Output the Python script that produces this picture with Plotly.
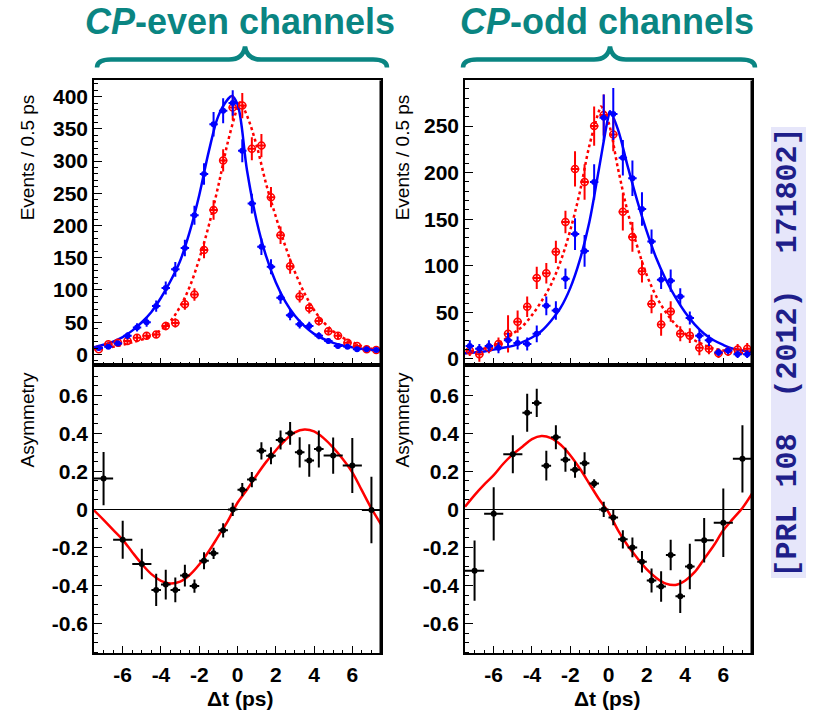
import plotly.graph_objects as go

# ---------------- data ----------------
# Delta-t bin centres (0.5 ps bins) for the event distributions
dt_bins = [-7.25, -6.75, -6.25, -5.75, -5.25, -4.75, -4.25, -3.75, -3.25, -2.75,
           -2.25, -1.75, -1.25, -0.75, -0.25, 0.25, 0.75, 1.25, 1.75, 2.25,
           2.75, 3.25, 3.75, 4.25, 4.75, 5.25, 5.75, 6.25, 6.75, 7.25]

# CP-even channels: q = +1 (blue) and q = -1 (red) event counts
even_b0 = [10, 12, 17, 29, 42, 50, 75, 103, 132, 165, 216, 280, 357, 378, 390,
           316, 234, 167, 136, 88, 61, 47, 44, 29, 21, 13, 12, 8, 8, 7]
even_b0_err = [3, 3.5, 4, 5.4, 6.5, 7, 8.7, 10, 11.5, 12.8, 14.7, 16.7, 18.9, 19.4, 19.7,
               17.8, 15.3, 12.9, 11.7, 9.4, 7.8, 6.9, 6.6, 5.4, 4.6, 3.6, 3.5, 2.8, 2.8, 2.6]
even_b0bar = [8, 16, 18, 21, 26, 29, 31, 44, 49, 78, 93, 162, 224, 301, 383,
              386, 319, 324, 244, 185, 137, 90, 72, 52, 36, 29, 18, 13, 8, 7]
even_b0bar_err = [2.8, 4, 4.2, 4.6, 5.1, 5.4, 5.6, 6.6, 7, 8.8, 9.6, 12.7, 15, 17.3, 19.6,
                  19.6, 17.9, 18, 15.6, 13.6, 11.7, 9.5, 8.5, 7.2, 6, 5.4, 4.2, 3.6, 2.8, 2.6]

# CP-odd channels
odd_b0 = [14, 11, 14, 12, 20, 17, 16, 27, 57, 52, 86, 134, 116, 190, 259,
          263, 216, 194, 161, 126, 85, 84, 67, 44, 25, 20, 7, 9, 5, 5]
odd_b0_err = [6, 5, 6, 6, 8, 7, 7, 9, 10, 10, 11, 17, 17, 19, 25,
              28, 19, 19, 18, 13, 10, 12, 9, 7, 6, 6, 4, 4, 4, 4]
odd_b0bar = [9, 5, 12, 16, 27, 40, 56, 87, 92, 115, 147, 204, 190, 250, 262,
             241, 158, 131, 94, 59, 37, 51, 27, 25, 12, 11, 6, 8, 10, 11]
odd_b0bar_err = [6, 8, 6, 7, 20, 12, 11, 12, 11, 12, 12, 19, 19, 21, 22,
                 18, 20, 16, 12, 10, 12, 11, 8, 8, 8, 6, 5, 5, 6, 6]

# Fit projections for the event distributions
even_b0_fit_x = [-7.5, -7, -6.5, -6, -5.5, -5, -4.5, -4, -3.5, -3, -2.5, -2, -1.5, -1,
                 -0.5, -0.3, 0, 0.5, 1, 1.5, 2, 2.5, 3, 3.5, 4, 4.5, 5, 5.5, 6, 6.5, 7, 7.5]
even_b0_fit = [11, 15, 20, 27, 37, 50, 66, 88, 114, 145, 190, 247, 315, 370,
               396, 401, 388, 285, 207, 152, 112, 82, 60, 44, 32, 24, 18, 14, 11, 9, 7, 6]
even_b0bar_fit_x = [-7.5, -7, -6.5, -6, -5.5, -5, -4.5, -4, -3.5, -3, -2.5, -2, -1.5, -1,
                    -0.5, 0, 0.13, 0.5, 1, 1.5, 2, 2.5, 3, 3.5, 4, 4.5, 5, 5.5, 6, 6.5, 7, 7.5]
even_b0bar_fit = [8, 10, 12, 15, 19, 23, 29, 38, 52, 74, 105, 148, 200, 262,
                  330, 383, 391, 370, 324, 264, 214, 168, 128, 95, 69, 50, 36, 26, 19, 13, 9, 6]

odd_b0_fit_x = [-7.5, -7, -6.5, -6, -5.5, -5, -4.5, -4, -3.5, -3, -2.5, -2, -1.5, -1,
                -0.5, 0, 0.08, 0.5, 1, 1.5, 2, 2.5, 3, 3.5, 4, 4.5, 5, 5.5, 6, 6.5, 7, 7.5]
odd_b0_fit = [6, 7, 8, 10, 12, 14, 18, 23, 30, 41, 55, 76, 106, 147,
              204, 261, 266, 246, 207, 170, 137, 108, 85, 66, 50, 37, 27, 20, 15, 11, 9, 7]
odd_b0bar_fit_x = [-7.5, -7, -6.5, -6, -5.5, -5, -4.5, -4, -3.5, -3, -2.5, -2, -1.5, -1,
                   -0.5, -0.4, 0, 0.5, 1, 1.5, 2, 2.5, 3, 3.5, 4, 4.5, 5, 5.5, 6, 6.5, 7, 7.5]
odd_b0bar_fit = [6, 8, 11, 14, 20, 27, 35, 47, 62, 80, 105, 138, 179, 229,
                 266, 271, 254, 204, 158, 121, 90, 67, 50, 37, 27, 20, 15, 11, 9, 7, 6, 6]

# Asymmetry points (variable bin widths)
asym_x = [-7, -6, -5, -4.25, -3.75, -3.25, -2.75, -2.25, -1.75, -1.25, -0.75, -0.25,
          0.25, 0.75, 1.25, 1.75, 2.25, 2.75, 3.25, 3.75, 4.25, 5, 6, 7]
asym_xerr = [0.5, 0.5, 0.5, 0.25, 0.25, 0.25, 0.25, 0.25, 0.25, 0.25, 0.25, 0.25,
             0.25, 0.25, 0.25, 0.25, 0.25, 0.25, 0.25, 0.25, 0.25, 0.5, 0.5, 0.5]
even_asym = [0.162, -0.16, -0.287, -0.423, -0.395, -0.423, -0.348, -0.403, -0.27, -0.231,
             -0.11, 0.0, 0.104, 0.157, 0.308, 0.282, 0.365, 0.40, 0.30, 0.257, 0.318,
             0.283, 0.231, -0.003]
even_asym_err = [0.14, 0.10, 0.08, 0.085, 0.078, 0.065, 0.057, 0.035, 0.045, 0.03, 0.037,
                 0.035, 0.035, 0.04, 0.045, 0.045, 0.05, 0.06, 0.08, 0.085, 0.097, 0.095,
                 0.145, 0.175]
odd_asym = [-0.322, -0.023, 0.29, 0.508, 0.56, 0.23, 0.379, 0.261, 0.209, 0.243, 0.136,
            0.0, -0.043, -0.157, -0.2, -0.275, -0.374, -0.405, -0.24, -0.457, -0.30,
            -0.162, -0.07, 0.266]
odd_asym_err = [0.158, 0.14, 0.10, 0.10, 0.074, 0.078, 0.063, 0.063, 0.043, 0.058, 0.022,
                0.04, 0.04, 0.048, 0.052, 0.057, 0.063, 0.08, 0.08, 0.087, 0.12, 0.117,
                0.18, 0.177]

# Asymmetry fit projections
asym_fit_x = [-7.5, -7, -6.5, -6, -5.5, -5, -4.5, -4, -3.5, -3, -2.5, -2, -1.5, -1, -0.5,
              0, 0.5, 1, 1.5, 2, 2.5, 3, 3.5, 4, 4.5, 5, 5.5, 6, 6.5, 7, 7.5]
even_asym_fit = [-0.005, -0.055, -0.108, -0.16, -0.225, -0.287, -0.34, -0.375, -0.39,
                 -0.38, -0.345, -0.29, -0.22, -0.14, -0.06, 0.035, 0.105, 0.18, 0.25,
                 0.31, 0.365, 0.405, 0.42, 0.41, 0.375, 0.325, 0.265, 0.195, 0.10, 0.005,
                 -0.078]
odd_asym_fit = [0.014, 0.075, 0.13, 0.18, 0.24, 0.29, 0.33, 0.37, 0.386, 0.375, 0.34,
                0.285, 0.215, 0.135, 0.055, -0.015, -0.11, -0.19, -0.255, -0.315, -0.36,
                -0.39, -0.397, -0.375, -0.33, -0.26, -0.19, -0.11, -0.05, 0.008, 0.083]

x_ticks = [-6, -4, -2, 0, 2, 4, 6]
x_ticktext = ["-6", "-4", "-2", "0", "2", "4", "6"]
asym_ticks = [-0.6, -0.4, -0.2, 0, 0.2, 0.4, 0.6]
asym_ticktext = ["-0.6", "-0.4", "-0.2", "0", "0.2", "0.4", "0.6"]
even_ticks = [0, 50, 100, 150, 200, 250, 300, 350, 400]
odd_ticks = [0, 50, 100, 150, 200, 250]

panel_titles = ["<b><i>CP</i>-even channels</b>", "<b><i>CP</i>-odd channels</b>"]
ref_label = "[PRL 108  (2012)  171802]"

# ---------------- layout helpers ----------------
W, H = 815, 717


def fx(p):
    return p / W


def fy(p):
    return 1 - p / H


LEFT = (94, 381)
RIGHT = (465, 752)
TOP = (81, 368)
BOTTOM = (368, 658)

BLUE = "#0000ff"
RED = "#ff0000"
TEAL = "#0a8582"
FONT = "Liberation Sans, Arial, sans-serif"

fig = go.Figure()


def add_counts(xa, ya, fit_b0_x, fit_b0, fit_b0bar_x, fit_b0bar,
               b0, b0_err, b0bar, b0bar_err):
    fig.add_trace(go.Scatter(x=fit_b0bar_x, y=fit_b0bar, mode="lines",
                             line=dict(color=RED, width=2.5, dash="dot", shape="spline"),
                             xaxis=xa, yaxis=ya, hoverinfo="skip"))
    fig.add_trace(go.Scatter(x=fit_b0_x, y=fit_b0, mode="lines",
                             line=dict(color=BLUE, width=2.5, shape="spline"),
                             xaxis=xa, yaxis=ya, hoverinfo="skip"))
    fig.add_trace(go.Scatter(x=dt_bins, y=b0bar, mode="markers",
                             marker=dict(symbol="circle-open", size=7, color=RED,
                                         line=dict(width=1.5, color=RED)),
                             error_y=dict(type="data", array=b0bar_err, color=RED,
                                          thickness=2, width=0),
                             error_x=dict(type="constant", value=0.22, color=RED,
                                          thickness=2, width=0),
                             xaxis=xa, yaxis=ya))
    fig.add_trace(go.Scatter(x=dt_bins, y=b0, mode="markers",
                             marker=dict(symbol="circle", size=6, color=BLUE),
                             error_y=dict(type="data", array=b0_err, color=BLUE,
                                          thickness=2, width=0),
                             error_x=dict(type="constant", value=0.22, color=BLUE,
                                          thickness=2, width=0),
                             xaxis=xa, yaxis=ya))


def add_asym(xa, ya, fit, vals, errs):
    fig.add_trace(go.Scatter(x=asym_fit_x, y=fit, mode="lines",
                             line=dict(color=RED, width=2.5, shape="spline"),
                             xaxis=xa, yaxis=ya, hoverinfo="skip"))
    fig.add_trace(go.Scatter(x=asym_x, y=vals, mode="markers",
                             marker=dict(symbol="circle", size=6, color="black"),
                             error_y=dict(type="data", array=errs, color="black",
                                          thickness=2, width=0),
                             error_x=dict(type="data", array=asym_xerr, color="black",
                                          thickness=2, width=0),
                             xaxis=xa, yaxis=ya))


add_counts("x", "y", even_b0_fit_x, even_b0_fit, even_b0bar_fit_x, even_b0bar_fit,
           even_b0, even_b0_err, even_b0bar, even_b0bar_err)
add_asym("x2", "y2", even_asym_fit, even_asym, even_asym_err)
add_counts("x3", "y3", odd_b0_fit_x, odd_b0_fit, odd_b0bar_fit_x, odd_b0bar_fit,
           odd_b0, odd_b0_err, odd_b0bar, odd_b0bar_err)
add_asym("x4", "y4", odd_asym_fit, odd_asym, odd_asym_err)

tickfont = dict(family=FONT, size=21, color="black", weight="bold")
base = dict(showline=True, linecolor="black", linewidth=1.5, mirror=True,
            ticks="inside", ticklen=8, tickwidth=1, tickcolor="black",
            showgrid=False, zeroline=False, tickfont=tickfont, fixedrange=True)


def xaxis_cfg(dom, anchor, labels):
    d = dict(base)
    d.update(domain=[fx(dom[0]), fx(dom[1])], anchor=anchor, range=[-7.5, 7.5],
             tickmode="array", tickvals=x_ticks, ticktext=x_ticktext,
             showticklabels=labels, ticklabelstandoff=2,
             minor=dict(tickmode="linear", tick0=0, dtick=0.5, ticks="inside",
                        ticklen=4, tickcolor="black", showgrid=False))
    return d


def yaxis_cfg(dom, anchor, rng, vals, text, minor_dt, zero=False):
    d = dict(base)
    d.update(domain=[fy(dom[1]), fy(dom[0])], anchor=anchor, range=rng,
             tickmode="array", tickvals=vals, ticktext=text,
             minor=dict(tickmode="linear", tick0=0, dtick=minor_dt, ticks="inside",
                        ticklen=4, tickcolor="black", showgrid=False))
    if zero:
        d.update(zeroline=True, zerolinecolor="black", zerolinewidth=1.2)
    return d


fig.update_layout(
    width=W, height=H, margin=dict(l=0, r=0, t=0, b=0),
    paper_bgcolor="white", plot_bgcolor="white", showlegend=False,
    xaxis=xaxis_cfg(LEFT, "y", False),
    yaxis=yaxis_cfg(TOP, "x", [-17, 425], even_ticks, [str(v) for v in even_ticks], 10),
    xaxis2=xaxis_cfg(LEFT, "y2", True),
    yaxis2=yaxis_cfg(BOTTOM, "x2", [-0.757, 0.757], asym_ticks, asym_ticktext, 0.05, True),
    xaxis3=xaxis_cfg(RIGHT, "y3", False),
    yaxis3=yaxis_cfg(TOP, "x3", [-7, 299], odd_ticks, [str(v) for v in odd_ticks], 10),
    xaxis4=xaxis_cfg(RIGHT, "y4", True),
    yaxis4=yaxis_cfg(BOTTOM, "x4", [-0.757, 0.757], asym_ticks, asym_ticktext, 0.05, True),
)

annotations = []
shapes = []

# Axis titles
for xc in (27, 402):
    annotations.append(dict(text="Events / 0.5 ps", x=fx(xc), y=fy(93), xref="paper",
                            yref="paper", textangle=-90, xanchor="center", yanchor="top",
                            showarrow=False, font=dict(family=FONT, size=19, color="black")))
    annotations.append(dict(text="Asymmetry", x=fx(xc), y=fy(372), xref="paper",
                            yref="paper", textangle=-90, xanchor="center", yanchor="top",
                            showarrow=False, font=dict(family=FONT, size=19, color="black")))
for xc in (240, 607):
    annotations.append(dict(text="<b>\u0394t (ps)</b>", x=fx(xc), y=fy(717), xref="paper",
                            yref="paper", xanchor="center", yanchor="bottom",
                            showarrow=False, font=dict(family=FONT, size=21, color="black")))

# Panel headings with braces
for title, xc, (x0, x1), tip in ((panel_titles[0], 240, (97, 387), 245),
                                 (panel_titles[1], 607, (463, 755), 610)):
    annotations.append(dict(text=title, x=fx(xc), y=fy(22), xref="paper", yref="paper",
                            xanchor="center", yanchor="middle", showarrow=False,
                            font=dict(family=FONT, size=36, color=TEAL)))
    yb, ye, yt = 60, 68, 47
    pts = [("M", (x0, ye)), ("Q", (x0, yb), (x0 + 14, yb)), ("L", (tip - 16, yb)),
           ("Q", (tip - 2, yb), (tip, yt)), ("Q", (tip + 2, yb), (tip + 16, yb)),
           ("L", (x1 - 14, yb)), ("Q", (x1, yb), (x1, ye))]
    path = ""
    for seg in pts:
        path += seg[0] + " " + " ".join(f"{fx(p[0]):.5f},{fy(p[1]):.5f}" for p in seg[1:]) + " "
    shapes.append(dict(type="path", path=path.strip(), xref="paper", yref="paper",
                       line=dict(color=TEAL, width=4.5)))

# Heavier right-hand frame edges
for xr in (LEFT[1], RIGHT[1]):
    shapes.append(dict(type="line", x0=fx(xr), x1=fx(xr), y0=fy(BOTTOM[1]), y1=fy(TOP[0]),
                       xref="paper", yref="paper", line=dict(color="black", width=3)))

# Reference label
annotations.append(dict(text=ref_label, x=fx(788), y=fy(355), xref="paper", yref="paper",
                        textangle=-90, xanchor="center", yanchor="middle", showarrow=False,
                        bgcolor="#e6e6fa", borderpad=0,
                        font=dict(family="Liberation Mono, Courier New, monospace", size=30,
                                  color="#1e1e8a", weight="bold")))

fig.update_layout(annotations=annotations, shapes=shapes)
fig.write_html("out.html")
